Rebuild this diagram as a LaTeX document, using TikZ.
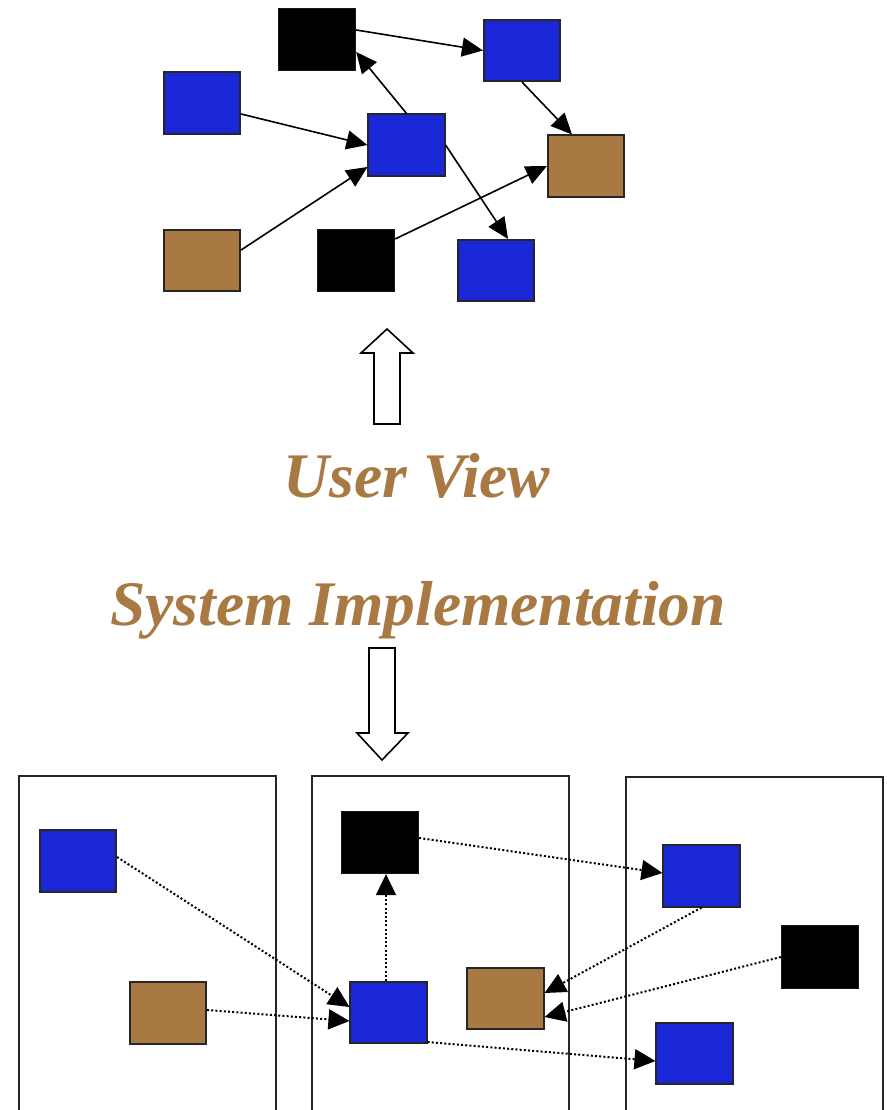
\documentclass[tikz,border=0pt]{standalone}
\usepackage{fontspec}
\setmainfont{Liberation Serif}
\usetikzlibrary{arrows.meta}

\definecolor{procblue}{RGB}{25,39,214}
\definecolor{procbrown}{RGB}{168,121,67}

\tikzset{
  proc/.style={rectangle, inner sep=0pt, minimum width=76.5pt, minimum height=61.5pt,
               line width=1.6pt},
  bluebox/.style={proc, fill=procblue, draw=black!85},
  brownbox/.style={proc, fill=procbrown, draw=black!85},
  blackbox/.style={proc, fill=black, draw=black!90, line width=0.8pt,
                   minimum width=77.5pt, minimum height=62.5pt},
  link/.style={line width=1.6pt, -{Triangle[length=21pt,width=19pt]}},
  msg/.style={line width=2pt, dash pattern=on 2pt off 2.2pt,
              -{Triangle[length=21pt,width=20pt]}},
  host/.style={line width=1.7pt, draw=black!85},
  bigarrow/.style={line width=1.6pt, draw=black, fill=white, line join=miter},
  caption/.style={inner sep=0pt, anchor=base, text=procbrown,
                  font=\fontsize{63.5}{70}\selectfont\bfseries\itshape}
}

\begin{document}
\begin{tikzpicture}[x=1pt, y=-1pt]
\useasboundingbox (0,0) rectangle (886,1110);

% ---------- logical graph ----------
\node[blackbox] (A) at (317,39.5) {};
\node[bluebox]  (B) at (522,50.5) {};
\node[bluebox]  (C) at (202,103) {};
\node[bluebox]  (D) at (406.5,145) {};
\node[brownbox] (E) at (586,166) {};
\node[brownbox] (F) at (202,260.5) {};
\node[blackbox] (G) at (356,260.5) {};
\node[bluebox]  (H) at (496,270.5) {};

\draw[link] ([yshift=9.5pt]A.east) -- (B.west);
\draw[link] (D.north) -- ([yshift=-12.5pt]A.east);
\draw[link] ([yshift=-11pt]C.east) -- (D.west);
\draw[link] ([yshift=10.5pt]F.east) -- ([yshift=-22pt]D.west);
\draw[link] (B.south) -- ([xshift=-14pt]E.north);
\draw[link] (D.east) -- ([xshift=12pt]H.north);
\draw[link] ([yshift=21.5pt]G.east) -- (E.west);

% ---------- hollow arrows and captions ----------
\draw[bigarrow] (374,424) -- (374,353) -- (361,353) -- (387,329) -- (413,353)
                -- (400,353) -- (400,424) -- cycle;
\node[caption] (uv) at (417,497) {User View};
\node[caption] (si) at (418,625) {System Implementation};
\draw[bigarrow] (369,648) -- (395,648) -- (395,733) -- (408,733) -- (382,760)
                -- (357,733) -- (369,733) -- cycle;

% ---------- hosts ----------
\draw[host] (19,1112) -- (19,776) -- (276,776) -- (276,1112);
\draw[host] (312,1112) -- (312,776) -- (569,776) -- (569,1112);
\draw[host] (626,1112) -- (626,777) -- (883,777) -- (883,1112);

% ---------- distributed processes ----------
\node[bluebox]  (L1) at (78,861) {};
\node[brownbox] (L2) at (168,1013) {};
\node[blackbox] (M1) at (380,842.5) {};
\node[bluebox]  (M2) at (388.5,1012.5) {};
\node[brownbox] (M3) at (505.5,998.5) {};
\node[bluebox]  (R1) at (701.5,876) {};
\node[blackbox] (R2) at (820,957) {};
\node[bluebox]  (R3) at (694.5,1053.5) {};

\draw[msg] ([yshift=4pt]L1.east) -- ([yshift=5.5pt]M2.west);
\draw[msg] ([yshift=3pt]L2.east) -- ([yshift=-8.5pt]M2.west);
\draw[msg] ([xshift=-2.5pt]M2.north) -- ([xshift=6pt]M1.south);
\draw[msg] ([yshift=4.5pt]M1.east) -- ([yshift=3pt]R1.west);
\draw[msg] (R1.south) -- ([yshift=5.5pt]M3.east);
\draw[msg] (R2.west) -- ([yshift=-18.5pt]M3.east);
\draw[msg] ([yshift=2pt]M2.south east) -- ([yshift=-7.5pt]R3.west);
\end{tikzpicture}
\end{document}
